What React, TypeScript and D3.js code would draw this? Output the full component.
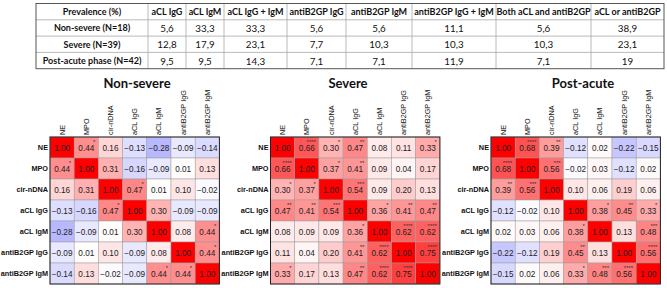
import React from "react";
import * as d3 from "d3";

// ---------- Table data ----------
const tableHeaders = [
  "Prevalence (%)",
  "aCL IgG",
  "aCL IgM",
  "aCL IgG + IgM",
  "antiB2GP IgG",
  "antiB2GP IgM",
  "antiB2GP IgG + IgM",
  "Both aCL and antiB2GP",
  "aCL or antiB2GP",
];
const tableRowLabels = ["Non-severe (N=18)", "Severe (N=39)", "Post-acute phase (N=42)"];
const prevNonSevere = ["5,6", "33,3", "33,3", "5,6", "5,6", "11,1", "5,6", "38,9"];
const prevSevere = ["12,8", "17,9", "23,1", "7,7", "10,3", "10,3", "10,3", "23,1"];
const prevPostAcute = ["9,5", "9,5", "14,3", "7,1", "7,1", "11,9", "7,1", "19"];

// ---------- Heatmap data ----------
const variables = ["NE", "MPO", "cir-nDNA", "aCL IgG", "aCL IgM", "antiB2GP IgG", "antiB2GP IgM"];
const panelTitles = ["Non-severe", "Severe", "Post-acute"];

const corrNonSevere = [
  [1.0, 0.44, 0.16, -0.13, -0.28, -0.09, -0.14],
  [0.44, 1.0, 0.31, -0.16, -0.09, 0.01, 0.13],
  [0.16, 0.31, 1.0, 0.47, 0.01, 0.1, -0.02],
  [-0.13, -0.16, 0.47, 1.0, 0.3, -0.09, -0.09],
  [-0.28, -0.09, 0.01, 0.3, 1.0, 0.08, 0.44],
  [-0.09, 0.01, 0.1, -0.09, 0.08, 1.0, 0.44],
  [-0.14, 0.13, -0.02, -0.09, 0.44, 0.44, 1.0],
];
const starsNonSevere = [
  [0, 1, 0, 0, 0, 0, 0],
  [1, 0, 0, 0, 0, 0, 0],
  [0, 0, 0, 1, 0, 0, 0],
  [0, 0, 1, 0, 0, 0, 0],
  [0, 0, 0, 0, 0, 0, 1],
  [0, 0, 0, 0, 0, 0, 1],
  [0, 0, 0, 0, 1, 1, 0],
];

const corrSevere = [
  [1.0, 0.66, 0.3, 0.47, 0.08, 0.11, 0.33],
  [0.66, 1.0, 0.37, 0.41, 0.09, 0.04, 0.17],
  [0.3, 0.37, 1.0, 0.54, 0.09, 0.2, 0.13],
  [0.47, 0.41, 0.54, 1.0, 0.36, 0.41, 0.47],
  [0.08, 0.09, 0.09, 0.36, 1.0, 0.62, 0.62],
  [0.11, 0.04, 0.2, 0.41, 0.62, 1.0, 0.75],
  [0.33, 0.17, 0.13, 0.47, 0.62, 0.75, 1.0],
];
const starsSevere = [
  [0, 4, 1, 2, 0, 0, 1],
  [4, 0, 1, 2, 0, 0, 0],
  [1, 1, 0, 3, 0, 0, 0],
  [2, 2, 3, 0, 1, 2, 2],
  [0, 0, 0, 1, 0, 4, 4],
  [0, 0, 0, 2, 4, 0, 4],
  [1, 0, 0, 2, 4, 4, 0],
];

const corrPostAcute = [
  [1.0, 0.68, 0.39, -0.12, 0.02, -0.22, -0.15],
  [0.68, 1.0, 0.56, -0.02, 0.03, -0.12, 0.02],
  [0.39, 0.56, 1.0, 0.1, 0.06, 0.19, 0.06],
  [-0.12, -0.02, 0.1, 1.0, 0.38, 0.45, 0.33],
  [0.02, 0.03, 0.06, 0.38, 1.0, 0.13, 0.48],
  [-0.22, -0.12, 0.19, 0.45, 0.13, 1.0, 0.56],
  [-0.15, 0.02, 0.06, 0.33, 0.48, 0.56, 1.0],
];
const starsPostAcute = [
  [0, 4, 2, 0, 0, 0, 0],
  [4, 0, 3, 0, 0, 0, 0],
  [2, 3, 0, 0, 0, 0, 0],
  [0, 0, 0, 0, 1, 2, 1],
  [0, 0, 0, 1, 0, 0, 3],
  [0, 0, 0, 2, 0, 0, 4],
  [0, 0, 0, 1, 3, 4, 0],
];

// ---------- Layout ----------
const W = 667;
const H = 288;
const tableColEdges = [36, 148, 186, 224, 287, 346, 412, 496, 591, 664];
const tableTop = 3.5;
const tableRowH = 16.3;

const panelX0 = [50, 270.5, 491];
const cellW = 24.2;
const cellH = 21;
const gridTop = 137;
const titleCenters = [137, 348, 583];

const tableFont = "Lato, 'Open Sans', sans-serif";
const chartFont = "'Liberation Sans', Arial, sans-serif";

const color = d3
  .scaleLinear<string>()
  .domain([-1, 0, 1])
  .range(["#0000ff", "#ffffff", "#ff0000"])
  .interpolate(d3.interpolateRgb);

function Table() {
  const rows = [prevNonSevere, prevSevere, prevPostAcute];
  const y = (i: number) => tableTop + i * tableRowH;
  const left = tableColEdges[0];
  const right = tableColEdges[tableColEdges.length - 1];
  const bottom = y(4);
  const cx = (j: number) => (tableColEdges[j] + tableColEdges[j + 1]) / 2;
  return (
    <g fontFamily={tableFont} fontSize={9} fill="#111">
      {[1, 2, 3].map((i) => (
        <line key={"h" + i} x1={left} x2={right} y1={y(i)} y2={y(i)} stroke="#a8a8a8" strokeWidth={0.8} />
      ))}
      {tableColEdges.slice(1, -1).map((x, i) => (
        <line key={"v" + i} x1={x} x2={x} y1={y(0)} y2={bottom} stroke="#a8a8a8" strokeWidth={0.8} />
      ))}
      <rect x={left} y={y(0)} width={right - left} height={bottom - y(0)} fill="none" stroke="#555" strokeWidth={1} />
      {tableHeaders.map((h, j) => (
        <text key={"th" + j} x={cx(j)} y={y(0) + tableRowH / 2} textAnchor="middle" dominantBaseline="central" fontWeight="bold">
          {h}
        </text>
      ))}
      {tableRowLabels.map((r, i) => (
        <g key={"tr" + i}>
          <text x={cx(0)} y={y(i + 1) + tableRowH / 2} textAnchor="middle" dominantBaseline="central" fontWeight="bold">
            {r}
          </text>
          {rows[i].map((v, j) => (
            <text key={j} x={cx(j + 1)} y={y(i + 1) + tableRowH / 2} textAnchor="middle" dominantBaseline="central" fontSize={9.8}>
              {v}
            </text>
          ))}
        </g>
      ))}
    </g>
  );
}

function Heatmap({ idx, corr, stars }: { idx: number; corr: number[][]; stars: number[][] }) {
  const x0 = panelX0[idx];
  const x = d3.scaleBand<string>().domain(variables).range([x0, x0 + cellW * variables.length]);
  const y = d3.scaleBand<string>().domain(variables).range([gridTop, gridTop + cellH * variables.length]);
  const bw = x.bandwidth();
  const bh = y.bandwidth();
  return (
    <g>
      <text
        x={titleCenters[idx]}
        y={88}
        textAnchor="middle"
        fontFamily={tableFont}
        fontWeight="bold"
        fontSize={13}
        fill="#111"
      >
        {panelTitles[idx]}
      </text>
      {variables.map((r, i) =>
        variables.map((c, j) => (
          <rect
            key={r + c}
            x={x(c)}
            y={y(r)}
            width={bw}
            height={bh}
            fill={color(corr[i][j])}
            stroke="#9a9a9a"
            strokeWidth={0.5}
          />
        ))
      )}
      <rect x={x0} y={gridTop} width={bw * 7} height={bh * 7} fill="none" stroke="#222" strokeWidth={1} />
      {variables.map((r, i) =>
        variables.map((c, j) => (
          <g key={"t" + r + c} fontFamily={chartFont}>
            <text
              x={(x(c) as number) + bw / 2}
              y={(y(r) as number) + bh / 2 + 0.5}
              textAnchor="middle"
              dominantBaseline="central"
              fontSize={8.2}
              fill="#222"
            >
              {d3.format(".2f")(corr[i][j])}
            </text>
            {stars[i][j] > 0 && (
              <text
                x={(x(c) as number) + bw - 3}
                y={(y(r) as number) + 6.5}
                textAnchor="end"
                fontSize={6}
                fill="#333"
              >
                {"*".repeat(stars[i][j])}
              </text>
            )}
          </g>
        ))
      )}
      {variables.map((r) => (
        <text
          key={"rl" + r}
          x={x0 - 2}
          y={(y(r) as number) + bh / 2}
          textAnchor="end"
          dominantBaseline="central"
          fontFamily={chartFont}
          fontWeight="bold"
          fontSize={7.3}
          fill="#111"
        >
          {r}
        </text>
      ))}
      {variables.map((c) => (
        <text
          key={"cl" + c}
          transform={`translate(${(x(c) as number) + bw / 2},${gridTop - 2}) rotate(-90)`}
          textAnchor="start"
          dominantBaseline="central"
          fontFamily={chartFont}
          fontSize={7.3}
          fill="#111"
        >
          {c}
        </text>
      ))}
    </g>
  );
}

export default function App() {
  return (
    <svg
      width={W}
      height={H}
      viewBox={`0 0 ${W} ${H}`}
      style={{ position: "absolute", left: 0, top: 0, background: "#fff" }}
    >
      <rect width={W} height={H} fill="#fff" />
      <Table />
      <Heatmap idx={0} corr={corrNonSevere} stars={starsNonSevere} />
      <Heatmap idx={1} corr={corrSevere} stars={starsSevere} />
      <Heatmap idx={2} corr={corrPostAcute} stars={starsPostAcute} />
    </svg>
  );
}
